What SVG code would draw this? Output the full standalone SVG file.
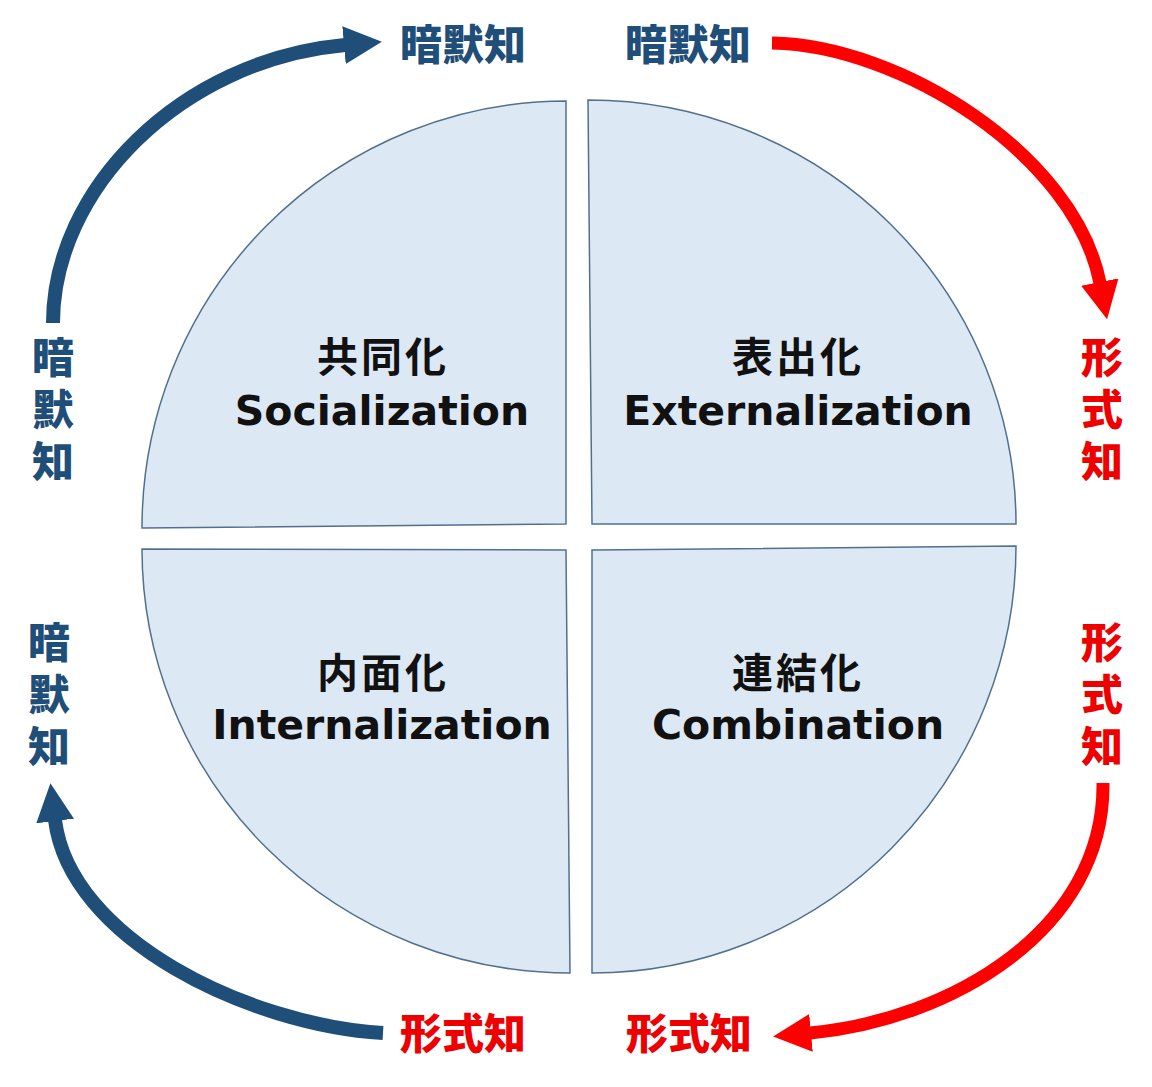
<svg xmlns="http://www.w3.org/2000/svg" width="1152" height="1087" viewBox="0 0 1152 1087">
<style>
.q{fill:#dde8f5;stroke:#52708c;stroke-width:1.5;stroke-linejoin:miter}
.jp{font-family:"Noto Sans CJK JP","Noto Sans CJK SC",sans-serif;font-weight:700;font-size:41px;letter-spacing:3px;fill:#111;text-anchor:middle}
.en{font-family:"DejaVu Sans","Liberation Sans",sans-serif;font-weight:700;font-size:41px;fill:#111;text-anchor:middle}
.lb{font-family:"Noto Sans CJK JP","Noto Sans CJK SC",sans-serif;font-weight:900;font-size:42px;text-anchor:middle}
.vt{font-family:"Noto Sans CJK JP","Noto Sans CJK SC",sans-serif;font-weight:900;font-size:42px;writing-mode:vertical-rl;letter-spacing:10px;text-anchor:start}
.blue{fill:#1f4e79}
.red{fill:#e00}
.ab{fill:none;stroke:#1f4e79;stroke-width:14;stroke-linecap:butt}
.ar{fill:none;stroke:#ff0000;stroke-width:13;stroke-linecap:butt}
</style>
<defs>
<marker id="hb" markerUnits="userSpaceOnUse" viewBox="0 0 38 38" markerWidth="38" markerHeight="38" refX="1" refY="19" orient="auto">
<path d="M0,0 L38,19 L0,38 Z" fill="#1f4e79"/>
</marker>
<marker id="hr" markerUnits="userSpaceOnUse" viewBox="0 0 38 38" markerWidth="38" markerHeight="38" refX="1" refY="19" orient="auto">
<path d="M0,0 L38,19 L0,38 Z" fill="#ff0000"/>
</marker>
</defs>

<g id="socialization">
<path class="q" d="M566,101 L566,524 L142,528 A424 427 0 0 1 566,101 Z"/>
<text class="jp" x="383" y="372">共同化</text>
<text class="en" x="382" y="425">Socialization</text>
</g>
<g id="externalization">
<path class="q" d="M588,100 A428 424 0 0 1 1016,524 L592,524 Z"/>
<text class="jp" x="798" y="372">表出化</text>
<text class="en" x="798" y="425">Externalization</text>
</g>
<g id="internalization">
<path class="q" d="M142,549 L566,550 L570,973 A428 424 0 0 1 142,549 Z"/>
<text class="jp" x="383" y="688">内面化</text>
<text class="en" x="382" y="739">Internalization</text>
</g>
<g id="combination">
<path class="q" d="M592,550 L1016,546 A424 427 0 0 1 592,973 Z"/>
<text class="jp" x="798" y="688">連結化</text>
<text class="en" x="798" y="739">Combination</text>
</g>

<g id="connectors">
<path class="ab" d="M53,323 C53,190 180,60 345,45" marker-end="url(#hb)"/>
<path class="ar" d="M772,43 C900,45 1075,155 1100,283" marker-end="url(#hr)"/>
<path class="ar" d="M1103,783 C1105,930 950,1020 810,1033" marker-end="url(#hr)"/>
<path class="ab" d="M383,1033 C250,1025 70,940 55,820" marker-end="url(#hb)"/>
</g>

<g id="label-tl">
<text class="lb blue" x="463" y="60">暗默知</text>
</g>
<g id="label-tr">
<text class="lb blue" x="688" y="60">暗默知</text>
</g>
<g id="label-bl">
<text class="lb red" x="463" y="1049">形式知</text>
</g>
<g id="label-br">
<text class="lb red" x="689" y="1049">形式知</text>
</g>
<g id="label-left-upper">
<text class="vt blue" x="53" y="336">暗默知</text>
</g>
<g id="label-left-lower">
<text class="vt blue" x="49" y="621">暗默知</text>
</g>
<g id="label-right-upper">
<text class="vt red" x="1102" y="336">形式知</text>
</g>
<g id="label-right-lower">
<text class="vt red" x="1102" y="621">形式知</text>
</g>
</svg>
